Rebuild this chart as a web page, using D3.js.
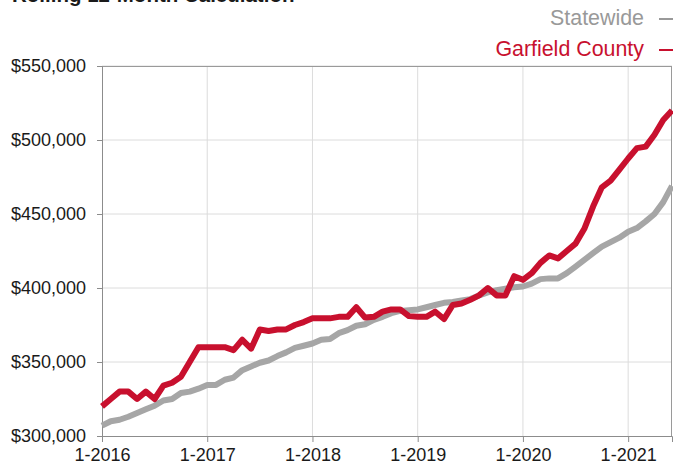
<!DOCTYPE html>
<html>
<head>
<meta charset="utf-8">
<script src="https://cdn.jsdelivr.net/npm/d3@7"></script>
<style>
  html, body { margin: 0; padding: 0; background: #fff; }
  svg { display: block; font-family: "Liberation Sans", Arial, Helvetica, sans-serif; }
</style>
</head>
<body>
<svg id="chart" width="673" height="468"></svg>
<script>
// Median sales price, rolling 12-month, in thousands of dollars (Jan 2016 – Jun 2021)
const seriesNames = ["Statewide", "Garfield County"];
const seriesColors = ["#a6a6a6", "#c8102e"];

const statewide = [
  307, 310, 311, 313, 315.5, 318, 320.5, 324, 325, 329, 330, 332,
  334.5, 334.5, 338, 339.5, 344.5, 347, 349.5, 351, 354, 356.5, 359.5, 361,
  362.5, 365, 365.5, 369.5, 371.5, 374.5, 375.5, 378.5, 380.5, 383, 384.5, 385,
  385.5, 387, 388.5, 390, 390.5, 391.5, 392.5, 395, 397, 398.5, 399.5, 400.5,
  401, 403, 406, 406.5, 406.5, 410, 414.5, 419, 423.5, 428, 431, 434,
  438, 440.5, 445, 450, 458, 469
];

const garfield = [
  320, 325, 330, 330, 325, 330, 325, 334, 336, 340, 350, 360,
  360, 360, 360, 358, 365, 359, 372, 371, 372, 372, 375, 377,
  379.5, 379.5, 379.5, 380.5, 380.5, 387, 380, 380.5, 384, 385.5, 385.5, 381,
  380.5, 380.5, 384, 379, 388.5, 389.5, 392, 395, 400, 395, 395, 408,
  405.5, 410, 417, 422, 420, 425, 430, 440, 455, 468, 472.5, 480,
  487.5, 494.5, 495.5, 503.5, 513.5, 520
];

// Month categories "M-YYYY"
const months = d3.range(statewide.length).map(i => `${(i % 12) + 1}-${2016 + Math.floor(i / 12)}`);
const xTickLabels = ["1-2016", "1-2017", "1-2018", "1-2019", "1-2020", "1-2021"];
const yTicks = [300, 350, 400, 450, 500, 550];

const svg = d3.select("#chart");
const margin = { left: 102, right: 1, top: 66, bottom: 32 };
const W = 673, H = 468;

const x = d3.scaleLinear()
  .domain([0, months.length - 1])
  .range([margin.left, W - margin.right]);
const y = d3.scaleLinear()
  .domain([300, 550])
  .range([H - margin.bottom, margin.top]);

const fmt = v => "$" + d3.format(",")(v * 1000);

// Gridlines
const grid = svg.append("g");
grid.selectAll("line.h").data(yTicks.slice(1)).join("line")
  .attr("x1", margin.left).attr("x2", W - margin.right)
  .attr("y1", d => y(d)).attr("y2", d => y(d))
  .attr("stroke", "#dcdcdc").attr("stroke-width", 1);
grid.selectAll("line.v").data(xTickLabels.slice(1)).join("line")
  .attr("x1", d => x(months.indexOf(d))).attr("x2", d => x(months.indexOf(d)))
  .attr("y1", margin.top).attr("y2", H - margin.bottom)
  .attr("stroke", "#dcdcdc").attr("stroke-width", 1);

// Frame (top and right)
svg.append("line")
  .attr("x1", margin.left).attr("x2", W - margin.right)
  .attr("y1", margin.top + 0.5).attr("y2", margin.top + 0.5)
  .attr("stroke", "#9a9a9a");
svg.append("line")
  .attr("x1", W - margin.right - 0.5).attr("x2", W - margin.right - 0.5)
  .attr("y1", margin.top).attr("y2", H - margin.bottom)
  .attr("stroke", "#9a9a9a");

// Axes
const yAxis = d3.axisLeft(y).tickValues(yTicks).tickFormat(fmt).tickSize(5).tickPadding(11);
const gy = svg.append("g").attr("transform", `translate(${margin.left},0)`).call(yAxis);
gy.select(".domain").attr("stroke", "#8c8c8c");
gy.selectAll(".tick line").attr("stroke", "#8c8c8c");
gy.selectAll(".tick text").attr("font-size", 18).attr("fill", "#1a1a1a")
  .attr("font-family", "'Liberation Sans', Arial, sans-serif");

const xAxis = d3.axisBottom(x)
  .tickValues(xTickLabels.map(l => months.indexOf(l)))
  .tickFormat(i => months[i]).tickSize(6).tickPadding(6);
const gx = svg.append("g").attr("transform", `translate(0,${H - margin.bottom})`).call(xAxis);
gx.select(".domain").attr("stroke", "#8c8c8c");
gx.selectAll(".tick line").attr("stroke", "#8c8c8c");
gx.selectAll(".tick text").attr("font-size", 18).attr("fill", "#1a1a1a")
  .attr("font-family", "'Liberation Sans', Arial, sans-serif");

// Lines
const line = d3.line().x((d, i) => x(i)).y(d => y(d)).curve(d3.curveLinear);
[statewide, garfield].forEach((vals, k) => {
  svg.append("path")
    .datum(vals)
    .attr("d", line)
    .attr("fill", "none")
    .attr("stroke", seriesColors[k])
    .attr("stroke-width", 6)
    .attr("stroke-linejoin", "round")
    .attr("stroke-linecap", "butt");
});

// Title (top edge)
svg.append("text")
  .attr("x", 12).attr("y", 2)
  .attr("font-size", 20.5).attr("font-weight", "bold")
  .attr("fill", "#1a1a1a")
  .text("Rolling 12-Month Calculation");

// Legend
const legend = svg.append("g");
seriesNames.forEach((name, k) => {
  const yy = 25 + k * 31;
  legend.append("text")
    .attr("x", 644).attr("y", yy)
    .attr("text-anchor", "end")
    .attr("font-size", 21.4)
    .attr("fill", k === 0 ? "#999999" : seriesColors[k])
    .text(name);
  legend.append("line")
    .attr("x1", 659).attr("x2", 673)
    .attr("y1", yy - 6).attr("y2", yy - 6)
    .attr("stroke", k === 0 ? "#999999" : seriesColors[k])
    .attr("stroke-width", 2);
});
</script>
</body>
</html>
